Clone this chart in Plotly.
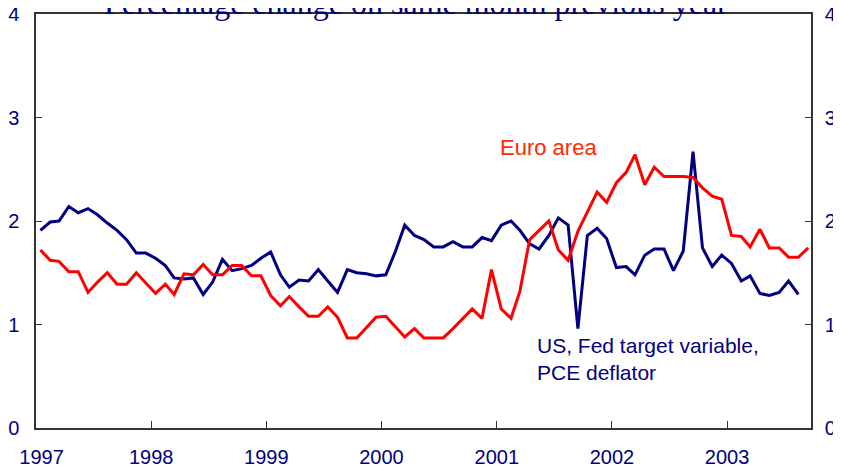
import pandas as pd
import plotly.graph_objects as go

# Monthly, Jan 1997 onwards (% change on same month previous year)
euro_area = [
    1.72, 1.62, 1.61, 1.51, 1.51, 1.31, 1.41, 1.50, 1.39, 1.39, 1.50, 1.40,
    1.30, 1.39, 1.29, 1.49, 1.48, 1.58, 1.48, 1.48, 1.57, 1.57, 1.47, 1.47,
    1.28, 1.18, 1.27, 1.17, 1.08, 1.08, 1.17, 1.07, 0.87, 0.87, 0.97, 1.07,
    1.08, 0.98, 0.88, 0.96, 0.87, 0.87, 0.87, 0.96, 1.06, 1.15, 1.06, 1.53,
    1.15, 1.06, 1.32, 1.82, 1.91, 2.00, 1.72, 1.62, 1.90, 2.09, 2.28, 2.18,
    2.37, 2.47, 2.64, 2.35, 2.52, 2.43, 2.43, 2.43, 2.42, 2.32, 2.24, 2.21,
    1.86, 1.85, 1.75, 1.92, 1.74, 1.74, 1.65, 1.65, 1.74,
]
us_pce = [
    1.91, 1.99, 2.00, 2.14, 2.08, 2.12, 2.06, 1.98, 1.91, 1.82, 1.69, 1.69,
    1.64, 1.57, 1.45, 1.44, 1.45, 1.29, 1.41, 1.63, 1.52, 1.54, 1.57, 1.64,
    1.70, 1.48, 1.36, 1.43, 1.42, 1.53, 1.42, 1.31, 1.53, 1.50, 1.49, 1.47,
    1.48, 1.71, 1.96, 1.86, 1.82, 1.75, 1.75, 1.80, 1.75, 1.75, 1.84, 1.81,
    1.96, 2.00, 1.91, 1.78, 1.73, 1.86, 2.03, 1.96, 0.96, 1.86, 1.93, 1.83,
    1.55, 1.56, 1.48, 1.67, 1.73, 1.73, 1.52, 1.71, 2.67, 1.74, 1.56, 1.67,
    1.59, 1.42, 1.47, 1.30, 1.28, 1.31, 1.42, 1.29,
]
year_ticks = ["1997", "1998", "1999", "2000", "2001", "2002", "2003"]
y_ticks = [0, 1, 2, 3, 4]

months_euro = pd.date_range("1997-01-01", periods=len(euro_area), freq="MS") + pd.Timedelta(days=14)
months_us = pd.date_range("1997-01-01", periods=len(us_pce), freq="MS") + pd.Timedelta(days=14)

NAVY = "#000080"
RED = "#ff0000"
TICKFONT = dict(family="Liberation Sans, Arial", size=20, color=NAVY)

fig = go.Figure()
fig.add_trace(go.Scatter(x=months_us, y=us_pce, mode="lines",
                         line=dict(color=NAVY, width=3), name="US", yaxis="y"))
fig.add_trace(go.Scatter(x=months_euro, y=euro_area, mode="lines",
                         line=dict(color=RED, width=3), name="Euro area", yaxis="y2"))

tickvals_x = [f"{y}-01-01" for y in year_ticks]
ticktext_x = ["\u00a0\u00a0" + year_ticks[0]] + year_ticks[1:]

fig.update_layout(
    width=833, height=462,
    margin=dict(l=28, r=30, t=6, b=42),
    paper_bgcolor="white", plot_bgcolor="white",
    showlegend=False,
    xaxis=dict(type="date", range=["1997-01-01", "2003-09-24"],
               tickvals=tickvals_x, ticktext=ticktext_x,
               ticks="inside", ticklen=7, tickcolor="#333333", tickwidth=1,
               showline=True, linecolor="#333333", linewidth=1.5, mirror=True,
               showgrid=False, zeroline=False, tickfont=TICKFONT,
               ticklabelstandoff=10, automargin=False, ticklabeloverflow="allow"),
    yaxis=dict(range=[0, 4], tickvals=y_ticks, ticks="inside", ticklen=6,
               tickcolor="#333333", showline=True, linecolor="#333333", linewidth=1.5,
               showgrid=False, zeroline=False, tickfont=TICKFONT,
               ticklabelstandoff=11, automargin=False, ticklabeloverflow="allow"),
    yaxis2=dict(range=[0, 4], tickvals=y_ticks, ticks="inside", ticklen=6,
                tickcolor="#333333", showline=True, linecolor="#333333", linewidth=1.5,
                showgrid=False, zeroline=False, tickfont=TICKFONT, side="right",
                overlaying="y", ticklabelstandoff=8, automargin=False,
                ticklabeloverflow="allow"),
)

fig.add_annotation(text="Percentage change on same month previous year",
                   xref="paper", yref="paper", x=0.49, y=1.027, xanchor="center", yanchor="middle",
                   showarrow=False, font=dict(family="Liberation Serif, Times New Roman, serif", size=32, color=NAVY))
fig.add_annotation(text="Euro area", xref="x", yref="y", x="2001-01-05", y=2.71,
                   xanchor="left", yanchor="middle", showarrow=False,
                   font=dict(family="Liberation Sans, Arial", size=22, color="#ff2a00"))
fig.add_annotation(text="US, Fed target variable,<br>PCE deflator", xref="x", yref="y",
                   x="2001-05-01", y=0.67, xanchor="left", yanchor="middle", align="left",
                   showarrow=False,
                   font=dict(family="Liberation Sans, Arial", size=21, color=NAVY))

fig.write_html("out.html")
